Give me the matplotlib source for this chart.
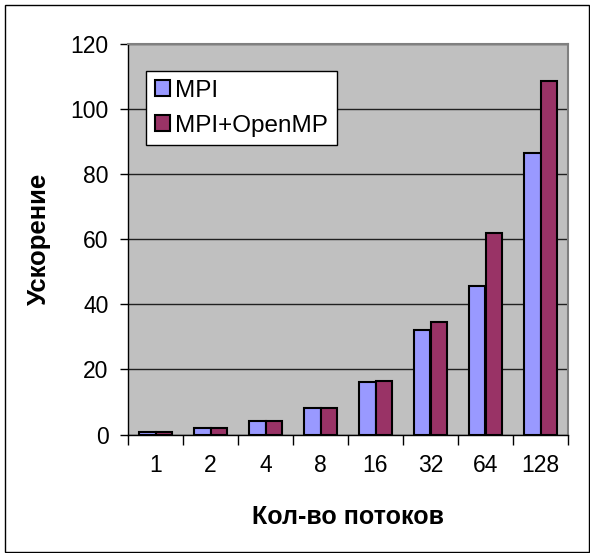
import matplotlib.pyplot as plt
from matplotlib.patches import Rectangle
import numpy as np

categories = ["1", "2", "4", "8", "16", "32", "64", "128"]
mpi = [0.9, 1.9, 4.0, 8.0, 16.0, 32.0, 45.5, 86.5]
mpi_omp = [0.9, 2.0, 4.0, 8.0, 16.3, 34.6, 62.0, 108.5]

W, H = 590, 553
plt.rcParams['font.family'] = ['Liberation Sans', 'DejaVu Sans']

fig = plt.figure(figsize=(W / 100, H / 100), dpi=100)
ax = fig.add_axes([128 / W, (H - 434.5) / H, 440 / W, 390.5 / H])
ax.set_facecolor('#C0C0C0')

x = np.arange(len(categories))
w = 0.3
ax.bar(x - w / 2, mpi, w, color='#9999FF', edgecolor='black', linewidth=1.5, label='MPI', zorder=3)
ax.bar(x + w / 2, mpi_omp, w, color='#993366', edgecolor='black', linewidth=1.5, label='MPI+OpenMP', zorder=3)

ax.set_xlim(-0.5, len(categories) - 0.5)
ax.set_ylim(0, 120)
ax.set_yticks(range(0, 121, 20))
ax.yaxis.grid(True, color='#202020', linewidth=1)
ax.set_axisbelow(True)

ax.set_xticks(x)
ax.set_xticklabels(categories)
ax.set_xticks(np.arange(-0.5, len(categories)), minor=True)
ax.tick_params(axis='x', which='major', length=0, pad=14, labelsize=16.5)
ax.tick_params(axis='x', which='minor', length=7, width=1, direction='out')
ax.tick_params(axis='y', length=6, width=1, direction='out', pad=8, labelsize=16.5)

for s in ['top', 'right']:
    ax.spines[s].set_color('#808080')
    ax.spines[s].set_linewidth(1.5)
for s in ['left', 'bottom']:
    ax.spines[s].set_color('black')
    ax.spines[s].set_linewidth(1)

ax.set_xlabel('Кол-во потоков', fontsize=18, fontweight='bold', labelpad=20)
ax.set_ylabel('Ускорение', fontsize=18.5, fontweight='bold', labelpad=14)

leg = ax.legend(loc='upper left', bbox_to_anchor=(18 / 440, 1 - 27 / 390.5), fontsize=17.5,
                frameon=True, fancybox=False, borderpad=0.35, handlelength=0.65, handleheight=0.65,
                handletextpad=0.2, labelspacing=0.55, borderaxespad=0)
leg.get_frame().set_edgecolor('black')
leg.get_frame().set_linewidth(1)
leg.get_frame().set_facecolor('white')
leg.get_frame().set_alpha(1)

fig.patches.append(Rectangle((5 / W, 1 / H), (W - 6) / W, (H - 6) / H, transform=fig.transFigure,
                             fill=False, edgecolor='black', linewidth=1))

fig.savefig('out.png', dpi=100)
